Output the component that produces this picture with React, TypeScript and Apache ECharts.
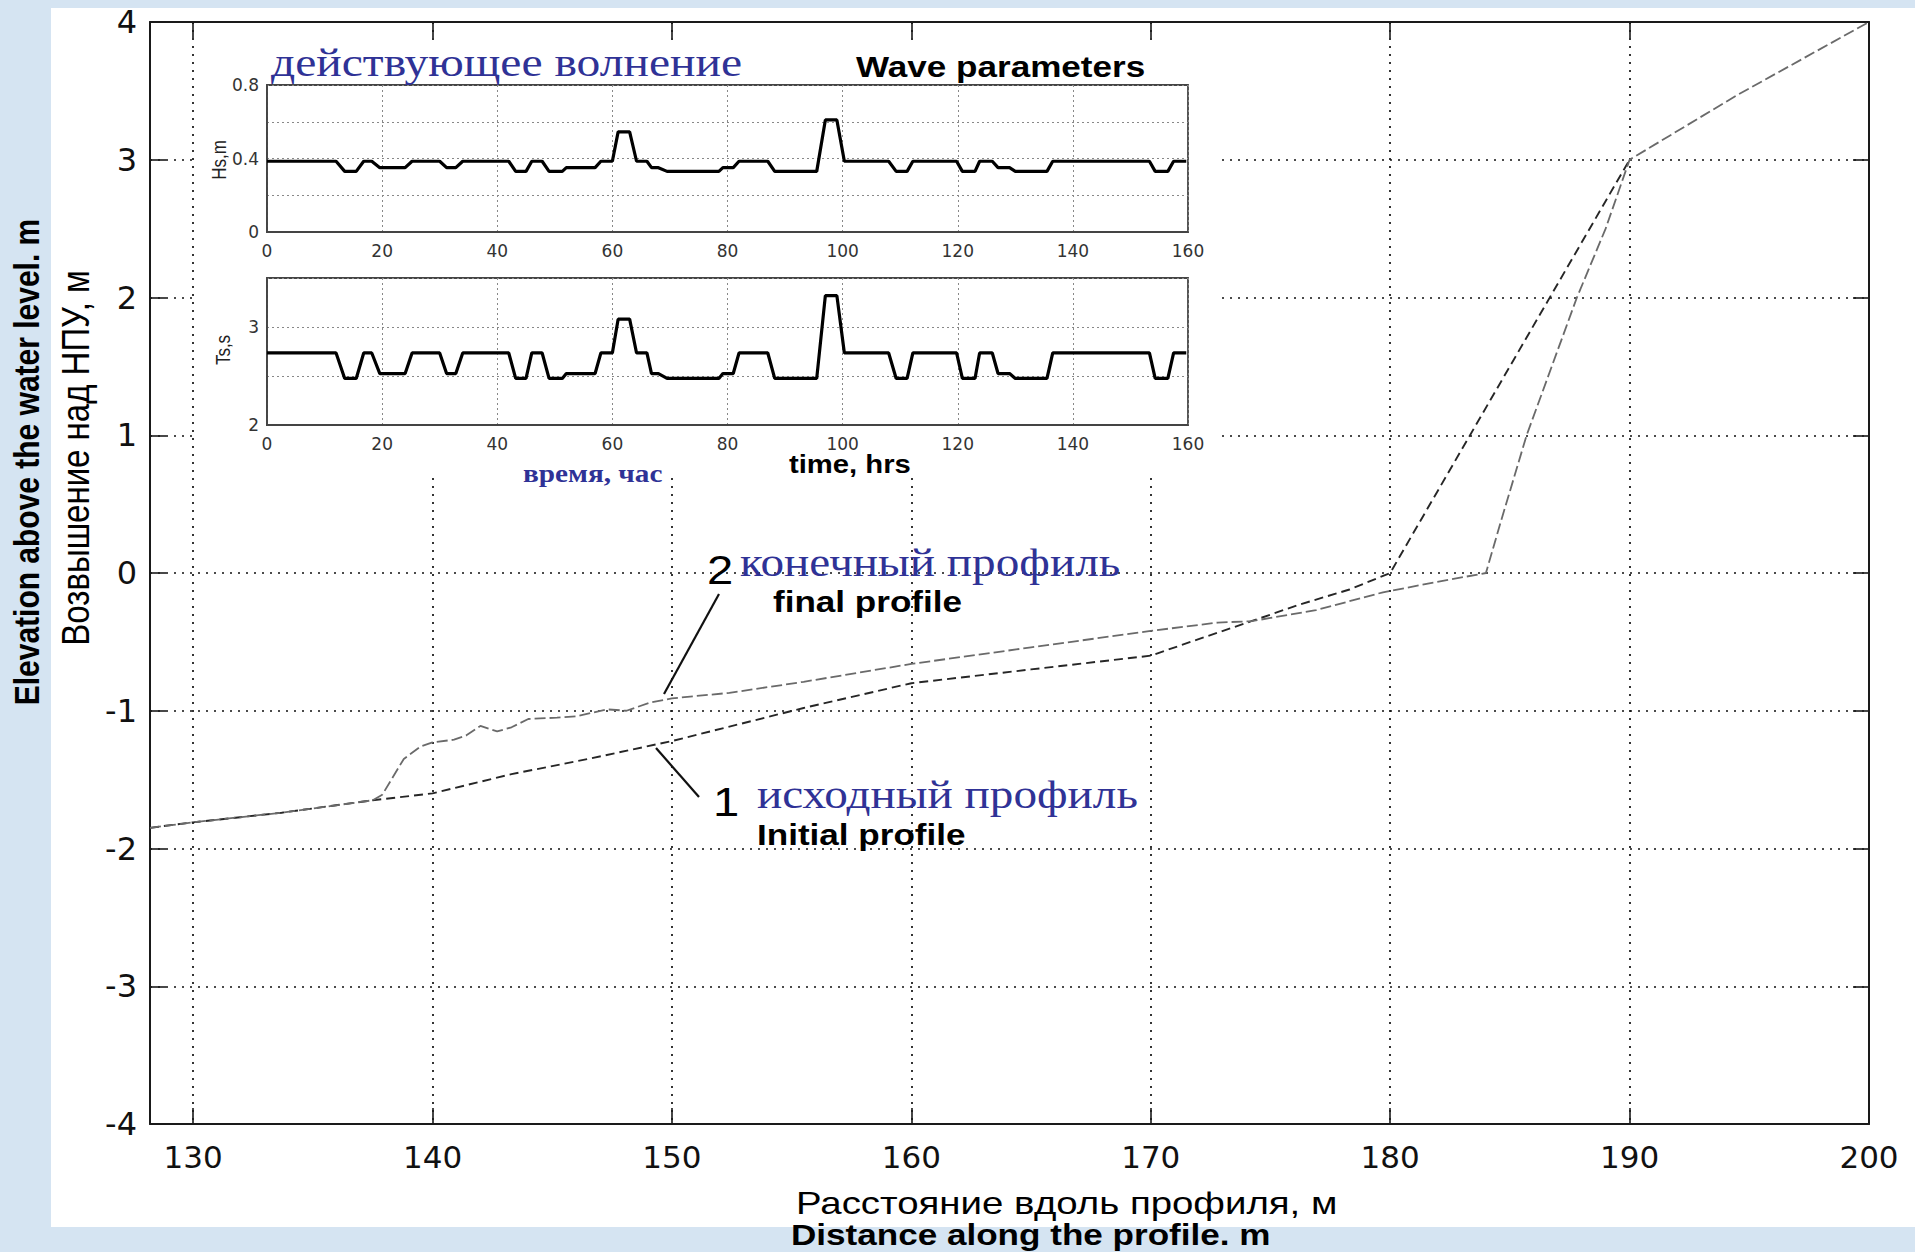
import React, { useEffect, useRef } from "react";
import * as echarts from "echarts";

// ---- Main profile data (distance along profile, m / elevation, m) ----
const initialDist = [128.2, 130, 133.7, 137.5, 140, 143.3, 146.5, 150, 155.5, 160, 165, 170, 172, 174.2, 176.2, 178.3, 180, 190];
const initialElev = [-1.85, -1.81, -1.74, -1.65, -1.6, -1.46, -1.35, -1.22, -0.98, -0.8, -0.7, -0.6, -0.48, -0.35, -0.23, -0.12, 0, 3];

const finalDist = [128.2, 130, 133.7, 137.5, 137.9, 138.8, 139.5, 140, 140.9, 141.4, 142, 142.7, 143.3, 144, 145.2, 146, 147.3, 148.1, 149.1, 150, 152.4, 155.5, 160, 165, 170, 172.8, 174.2, 176.9, 179.7, 181.8, 184, 184.6, 185.7, 187.8, 189, 190, 194.5, 200];
const finalElev = [-1.85, -1.81, -1.74, -1.65, -1.61, -1.35, -1.26, -1.23, -1.21, -1.18, -1.11, -1.15, -1.12, -1.06, -1.05, -1.04, -0.99, -1.0, -0.94, -0.91, -0.87, -0.79, -0.66, -0.54, -0.42, -0.36, -0.35, -0.27, -0.14, -0.07, 0, 0.36, 1.0, 2.0, 2.5, 3, 3.47, 4];

// ---- Wave parameters (time, hrs) ----
const waveTime = [0, 12, 13.5, 15.5, 16.8, 18.2, 19.6, 24, 25.2, 30, 31.2, 32.8, 34, 42, 43.2, 45, 46, 47.8, 49, 51.3, 52, 57, 58, 60, 61, 63, 64.2, 66, 66.8, 68, 69.5, 78.5, 79.2, 81, 82, 87, 88.2, 95.5, 97, 99, 100.3, 108, 109.3, 111.2, 112.2, 119.8, 120.8, 123, 123.8, 126, 127, 129, 130, 135.5, 136.5, 153.3, 154.3, 156.5, 157.5, 159.7];
const hsValues = [0.385, 0.385, 0.33, 0.33, 0.385, 0.385, 0.35, 0.35, 0.385, 0.385, 0.35, 0.35, 0.385, 0.385, 0.33, 0.33, 0.385, 0.385, 0.33, 0.33, 0.35, 0.35, 0.385, 0.385, 0.545, 0.545, 0.385, 0.385, 0.35, 0.35, 0.33, 0.33, 0.35, 0.35, 0.385, 0.385, 0.33, 0.33, 0.61, 0.61, 0.385, 0.385, 0.33, 0.33, 0.385, 0.385, 0.33, 0.33, 0.385, 0.385, 0.35, 0.35, 0.33, 0.33, 0.385, 0.385, 0.33, 0.33, 0.385, 0.385];
const tsValues = [2.735, 2.735, 2.475, 2.475, 2.735, 2.735, 2.525, 2.525, 2.735, 2.735, 2.525, 2.525, 2.735, 2.735, 2.475, 2.475, 2.735, 2.735, 2.475, 2.475, 2.525, 2.525, 2.735, 2.735, 3.08, 3.08, 2.735, 2.735, 2.525, 2.525, 2.475, 2.475, 2.525, 2.525, 2.735, 2.735, 2.475, 2.475, 3.32, 3.32, 2.735, 2.735, 2.475, 2.475, 2.735, 2.735, 2.475, 2.475, 2.735, 2.735, 2.525, 2.525, 2.475, 2.475, 2.735, 2.735, 2.475, 2.475, 2.735, 2.735];

// ---- Tick label values shown ----
const hsLabelTicks = [0, 0.4, 0.8];
const tsLabelTicks = [2, 3];

const BLUE = "#2f3296";
const SANS = '"Liberation Sans", Arial, sans-serif';
const SERIF = '"Liberation Serif", "Times New Roman", serif';
const WIDE = '"DejaVu Sans", sans-serif';

function txt(text: string, x: number, y: number, font: string, fill: string, o: any = {}) {
  return {
    type: "text",
    x,
    y,
    z: 20,
    rotation: o.rot || 0,
    scaleX: o.sx || 1,
    scaleY: o.sy || 1,
    style: {
      text,
      font,
      fill,
      align: o.align || "left",
      verticalAlign: "middle",
      textAlign: o.align || "left",
      textVerticalAlign: "middle",
    },
  };
}

export default function App() {
  const ref = useRef<HTMLDivElement>(null);
  useEffect(() => {
    if (!ref.current) return;
    const chart = echarts.init(ref.current, undefined, { renderer: "svg" });
    const mainAxisLine = { show: true, onZero: false, lineStyle: { color: "#1a1a1a", width: 2 } };
    const mainTick = { show: true, inside: true, length: 16, lineStyle: { color: "#1a1a1a", width: 1.6 } };
    const gridDots = { show: true, lineStyle: { color: "#111", width: 1.7, type: [2, 6] } };
    const insetAxisLine = { show: true, onZero: false, lineStyle: { color: "#444", width: 1.8 } };
    const insetSplit = { show: true, lineStyle: { color: "#888", width: 1, type: [2, 3] } };
    const insetLabel = { fontFamily: WIDE, fontSize: 17, color: "#333", margin: 10 };

    const option: any = {
      animation: false,
      backgroundColor: "#d5e4f2",
      grid: [
        { left: 150, top: 22, width: 1719, height: 1102, show: false },
        { left: 267, top: 85, width: 921, height: 147, show: true, borderColor: "#444", borderWidth: 1.8, backgroundColor: "transparent", z: 4 },
        { left: 267, top: 278, width: 921, height: 147, show: true, borderColor: "#444", borderWidth: 1.8, backgroundColor: "transparent", z: 4 },
      ],
      xAxis: [
        {
          gridIndex: 0, type: "value", min: 128.2, max: 200, splitNumber: 7, minInterval: 10, maxInterval: 10,
          position: "bottom", axisLine: mainAxisLine, axisTick: mainTick,
          axisLabel: { showMinLabel: false, fontFamily: WIDE, fontSize: 31, color: "#111", margin: 17 },
          splitLine: gridDots, z: 0,
        },
        {
          gridIndex: 0, type: "value", min: 128.2, max: 200, splitNumber: 7, minInterval: 10, maxInterval: 10,
          position: "top", axisLine: mainAxisLine, axisTick: mainTick, axisLabel: { show: false }, splitLine: { show: false }, z: 0,
        },
        {
          gridIndex: 1, type: "value", min: 0, max: 160, interval: 20, axisLine: insetAxisLine, axisTick: { show: false },
          axisLabel: insetLabel, splitLine: insetSplit, z: 5,
        },
        {
          gridIndex: 2, type: "value", min: 0, max: 160, interval: 20, axisLine: insetAxisLine, axisTick: { show: false },
          axisLabel: insetLabel, splitLine: insetSplit, z: 5,
        },
      ],
      yAxis: [
        {
          gridIndex: 0, type: "value", min: -4, max: 4, interval: 1, position: "left", axisLine: mainAxisLine, axisTick: mainTick,
          axisLabel: { fontFamily: WIDE, fontSize: 32, color: "#111", margin: 13 },
          splitLine: gridDots, z: 0,
        },
        {
          gridIndex: 0, type: "value", min: -4, max: 4, interval: 1, position: "right", axisLine: mainAxisLine, axisTick: mainTick,
          axisLabel: { show: false }, splitLine: { show: false }, z: 0,
        },
        {
          gridIndex: 1, type: "value", min: 0, max: 0.8, interval: 0.2, axisLine: insetAxisLine, axisTick: { show: false },
          axisLabel: { ...insetLabel, margin: 8, formatter: (v: number) => (hsLabelTicks.some((t) => Math.abs(t - v) < 1e-6) ? String(v) : "") },
          splitLine: insetSplit, z: 5,
        },
        {
          gridIndex: 2, type: "value", min: 2, max: 3.5, interval: 0.5, axisLine: insetAxisLine, axisTick: { show: false },
          axisLabel: { ...insetLabel, margin: 8, formatter: (v: number) => (tsLabelTicks.some((t) => Math.abs(t - v) < 1e-6) ? String(v) : "") },
          splitLine: insetSplit, z: 5,
        },
      ],
      graphic: [
        { type: "rect", z: -5, shape: { x: 51, y: 8, width: 1864, height: 1219 }, style: { fill: "#ffffff" } },
        { type: "rect", z: 1, shape: { x: 198, y: 44, width: 1020, height: 434 }, style: { fill: "#ffffff" } },
        // inset texts
        txt("действующее волнение", 271, 62, `normal 41px ${SERIF}`, BLUE, { sx: 1.16 }),
        txt("Wave parameters", 856, 67, `bold 29px ${SANS}`, "#000", { sx: 1.21 }),
        txt("Hs,m", 219, 160, `normal 17px ${SANS}`, "#222", { rot: Math.PI / 2, align: "center", sy: 1.17 }),
        txt("Ts,s", 223, 350, `normal 17px ${SANS}`, "#222", { rot: Math.PI / 2, align: "center", sy: 1.17 }),
        txt("время, час", 523, 474, `bold 25px ${SERIF}`, BLUE, { sx: 1.17 }),
        txt("time, hrs", 789, 464, `bold 25px ${SANS}`, "#000", { sx: 1.17 }),
        // profile annotations
        txt("2", 707, 570, `normal 41px ${SANS}`, "#000", { sx: 1.15 }),
        txt("конечный профиль", 740, 562, `normal 40px ${SERIF}`, BLUE, { sx: 1.18 }),
        txt("final profile", 773, 601, `bold 30px ${SANS}`, "#000", { sx: 1.17 }),
        txt("1", 713, 802, `normal 41px ${SANS}`, "#000", { sx: 1.15 }),
        txt("исходный профиль", 757, 794, `normal 40px ${SERIF}`, BLUE, { sx: 1.18 }),
        txt("Initial profile", 757, 834, `bold 30px ${SANS}`, "#000", { sx: 1.17 }),
        { type: "line", z: 20, shape: { x1: 719, y1: 594, x2: 664, y2: 694 }, style: { stroke: "#111", lineWidth: 2.2 } },
        { type: "line", z: 20, shape: { x1: 656, y1: 748, x2: 699, y2: 797 }, style: { stroke: "#111", lineWidth: 2.2 } },
        // axis titles
        txt("Elevation above the water level. m", 27, 462, `bold 30px ${SANS}`, "#000", { rot: Math.PI / 2, align: "center", sy: 1.17 }),
        txt("Возвышение над НПУ, м", 76, 458, `normal 33px ${SANS}`, "#000", { rot: Math.PI / 2, align: "center", sy: 1.15 }),
        txt("Расстояние вдоль профиля, м", 796, 1203, `normal 32px ${SANS}`, "#000", { sx: 1.2 }),
        txt("Distance along the profile. m", 791, 1234, `bold 30px ${SANS}`, "#000", { sx: 1.17 }),
      ],
      series: [
        {
          name: "Initial profile", type: "line", xAxisIndex: 0, yAxisIndex: 0, z: 2,
          data: initialDist.map((d, i) => [d, initialElev[i]]),
          symbol: "none", lineStyle: { color: "#262626", width: 1.9, type: [9, 5] },
        },
        {
          name: "Final profile", type: "line", xAxisIndex: 0, yAxisIndex: 0, z: 2,
          data: finalDist.map((d, i) => [d, finalElev[i]]),
          symbol: "none", lineStyle: { color: "#6a6a6a", width: 1.8, type: [11, 4] },
        },
        {
          name: "Hs", type: "line", xAxisIndex: 2, yAxisIndex: 2, z: 6,
          data: waveTime.map((t, i) => [t, hsValues[i]]),
          symbol: "none", lineStyle: { color: "#000", width: 3.2 },
        },
        {
          name: "Ts", type: "line", xAxisIndex: 3, yAxisIndex: 3, z: 6,
          data: waveTime.map((t, i) => [t, tsValues[i]]),
          symbol: "none", lineStyle: { color: "#000", width: 3.2 },
        },
      ],
    };
    chart.setOption(option);
    return () => chart.dispose();
  }, []);
  return <div ref={ref} style={{ position: "fixed", left: 0, top: 0, width: 1915, height: 1252 }} />;
}
